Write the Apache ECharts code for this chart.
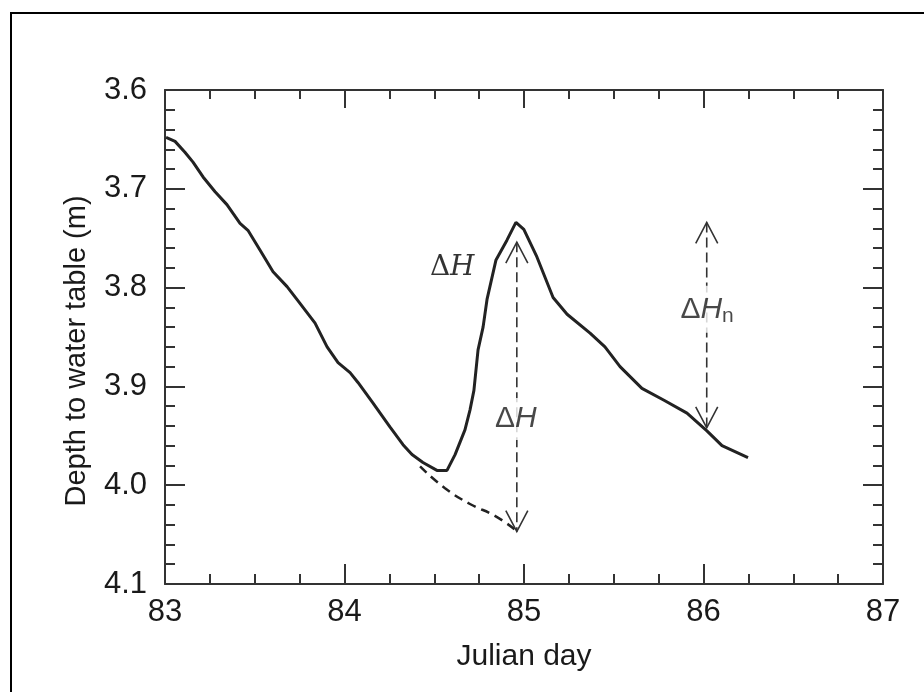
<!DOCTYPE html>
<html>
<head>
<meta charset="utf-8">
<script src="https://cdn.jsdelivr.net/npm/echarts@6/dist/echarts.min.js"></script>
<style>
html,body{margin:0;padding:0;background:#fff;}
#chart{width:924px;height:692px;}
</style>
</head>
<body>
<div id="chart"></div>
<script>
// Observed water-table depth (Julian day, depth in m)
const days = [83.006,83.056,83.111,83.156,83.212,83.279,83.345,83.418,83.462,83.529,83.602,83.680,83.752,83.836,83.903,83.964,84.031,84.075,84.159,84.253,84.326,84.376,84.437,84.515,84.571,84.616,84.671,84.699,84.721,84.744,84.772,84.794,84.844,84.905,84.955,84.999,85.072,85.162,85.240,85.368,85.451,85.535,85.657,85.780,85.908,86.019,86.103,86.248];
const depths = [3.648,3.652,3.663,3.673,3.688,3.703,3.716,3.735,3.742,3.762,3.784,3.799,3.816,3.836,3.860,3.876,3.886,3.896,3.917,3.941,3.959,3.969,3.977,3.985,3.985,3.969,3.944,3.924,3.904,3.863,3.840,3.812,3.772,3.752,3.734,3.741,3.769,3.810,3.827,3.846,3.860,3.880,3.902,3.914,3.927,3.945,3.960,3.972];
// Extrapolated recession (dashed)
const recessionDays = [84.421,84.560,84.699,84.838,84.950];
const recessionDepths = [3.981,4.003,4.019,4.031,4.045];
// Double-headed arrows: day, top depth, bottom depth
const arrowDays = [84.96, 86.018];
const arrowTops = [3.754, 3.734];
const arrowBottoms = [4.047, 3.942];
// Annotation labels
const labelTexts = ['{sd|Δ}{sh|H}', '{d|Δ}{h|H}', '{d|Δ}{h|H}{n|n}'];
const labelDays = [84.60, 84.955, 86.02];
const labelDepths = [3.780, 3.933, 3.822];
const labelBoxed = [false, true, true];
// Axis ticks
const xTicks = [83, 84, 85, 86, 87];
const yTicks = [3.6, 3.7, 3.8, 3.9, 4.0, 4.1];

const FONT = 'Liberation Sans, Arial, sans-serif';
const INK = '#1a1a1a';

const chart = echarts.init(document.getElementById('chart'), null, {renderer: 'canvas'});

function axisCommon(showLabel) {
  return {
    axisLine: {show: true, onZero: false, lineStyle: {color: '#333', width: 2}},
    axisTick: {show: true, inside: true, length: 20, lineStyle: {color: '#333', width: 2}},
    minorTick: {show: true, length: 10, lineStyle: {color: '#333', width: 2}},
    splitLine: {show: false},
    minorSplitLine: {show: false},
    axisLabel: {show: showLabel, fontFamily: FONT, fontSize: 31, color: INK}
  };
}

const xBase = {type: 'value', min: xTicks[0], max: xTicks[xTicks.length - 1], interval: 1};
const yBase = {type: 'value', min: yTicks[0], max: yTicks[yTicks.length - 1], interval: 0.1, inverse: true};

const option = {
  backgroundColor: '#fff',
  animation: false,
  grid: {left: 165, top: 90, width: 718, height: 494, containLabel: false},
  xAxis: [
    Object.assign({}, xBase, axisCommon(true), {
      position: 'bottom',
      minorTick: {show: true, splitNumber: 4, length: 10, lineStyle: {color: '#333', width: 2}},
      axisLabel: {show: true, fontFamily: FONT, fontSize: 31, color: INK, margin: 13},
      name: 'Julian day', nameLocation: 'middle', nameGap: 58,
      nameTextStyle: {fontFamily: FONT, fontSize: 30, color: INK}
    }),
    Object.assign({}, xBase, axisCommon(false), {
      position: 'top',
      minorTick: {show: true, splitNumber: 4, length: 9, lineStyle: {color: '#333', width: 2}},
      axisTick: {show: true, inside: true, length: 18, lineStyle: {color: '#333', width: 2}}
    })
  ],
  yAxis: [
    Object.assign({}, yBase, axisCommon(true), {
      position: 'left',
      minorTick: {show: true, splitNumber: 5, length: 10, lineStyle: {color: '#333', width: 2}},
      axisLabel: {show: true, fontFamily: FONT, fontSize: 31, color: INK, margin: 18,
        formatter: v => v.toFixed(1)},
      name: 'Depth to water table (m)', nameLocation: 'middle', nameGap: 74, nameRotate: 90,
      nameTextStyle: {fontFamily: FONT, fontSize: 29, color: INK, padding: [0, 28, 0, 0]}
    }),
    Object.assign({}, yBase, axisCommon(false), {
      position: 'right',
      minorTick: {show: true, splitNumber: 5, length: 10, lineStyle: {color: '#333', width: 2}}
    })
  ],
  graphic: [
    {type: 'polyline', silent: true, shape: {points: [[11, 692], [11, 13], [924, 13]]},
      style: {stroke: '#000', lineWidth: 2, fill: null}}
  ],
  series: [
    {
      type: 'line', name: 'Depth', xAxisIndex: 0, yAxisIndex: 0,
      data: days.map((d, i) => [d, depths[i]]),
      symbol: 'none', smooth: false,
      lineStyle: {color: '#222', width: 3},
      z: 5
    },
    {
      type: 'line', name: 'Recession', xAxisIndex: 0, yAxisIndex: 0,
      data: recessionDays.map((d, i) => [d, recessionDepths[i]]),
      symbol: 'none', smooth: true,
      lineStyle: {color: '#222', width: 2.5, type: [9, 6]},
      z: 4
    },
    {
      type: 'custom', name: 'Arrows', xAxisIndex: 0, yAxisIndex: 0,
      data: arrowDays.map((d, i) => [d, arrowTops[i], arrowBottoms[i]]),
      renderItem: function (params, api) {
        const p1 = api.coord([api.value(0), api.value(1)]);
        const p2 = api.coord([api.value(0), api.value(2)]);
        const aw = 11, ah = 21;
        const st = {stroke: '#333', lineWidth: 1.6, fill: null};
        return {
          type: 'group',
          children: [
            {type: 'line', shape: {x1: p1[0], y1: p1[1], x2: p2[0], y2: p2[1]},
              style: Object.assign({lineDash: [10, 5]}, st)},
            {type: 'polyline', shape: {points: [[p1[0] - aw, p1[1] + ah], [p1[0], p1[1]], [p1[0] + aw, p1[1] + ah]]},
              style: st},
            {type: 'polyline', shape: {points: [[p2[0] - aw, p2[1] - ah], [p2[0], p2[1]], [p2[0] + aw, p2[1] - ah]]},
              style: st}
          ]
        };
      },
      z: 6
    },
    {
      type: 'scatter', name: 'Labels', xAxisIndex: 0, yAxisIndex: 0,
      symbolSize: 0,
      data: labelDays.map((d, i) => ({
        value: [d, labelDepths[i]],
        label: {
          show: true, position: 'inside', formatter: labelTexts[i],
          backgroundColor: labelBoxed[i] ? '#fff' : 'transparent',
          padding: labelBoxed[i] ? [6, 2, 6, 2] : 0,
          rich: {
            sd: {fontFamily: 'DejaVu Serif, serif', fontSize: 28, color: '#000'},
            sh: {fontFamily: 'DejaVu Serif, serif', fontStyle: 'italic', fontSize: 28, color: '#000'},
            d: {fontFamily: FONT, fontSize: 30, color: INK},
            h: {fontFamily: FONT, fontStyle: 'italic', fontSize: 30, color: INK},
            n: {fontFamily: FONT, fontSize: 21, color: INK, verticalAlign: 'bottom', padding: [14, 0, 0, 0]}
          }
        }
      })),
      z: 10
    }
  ]
};
chart.setOption(option);
</script>
</body>
</html>
